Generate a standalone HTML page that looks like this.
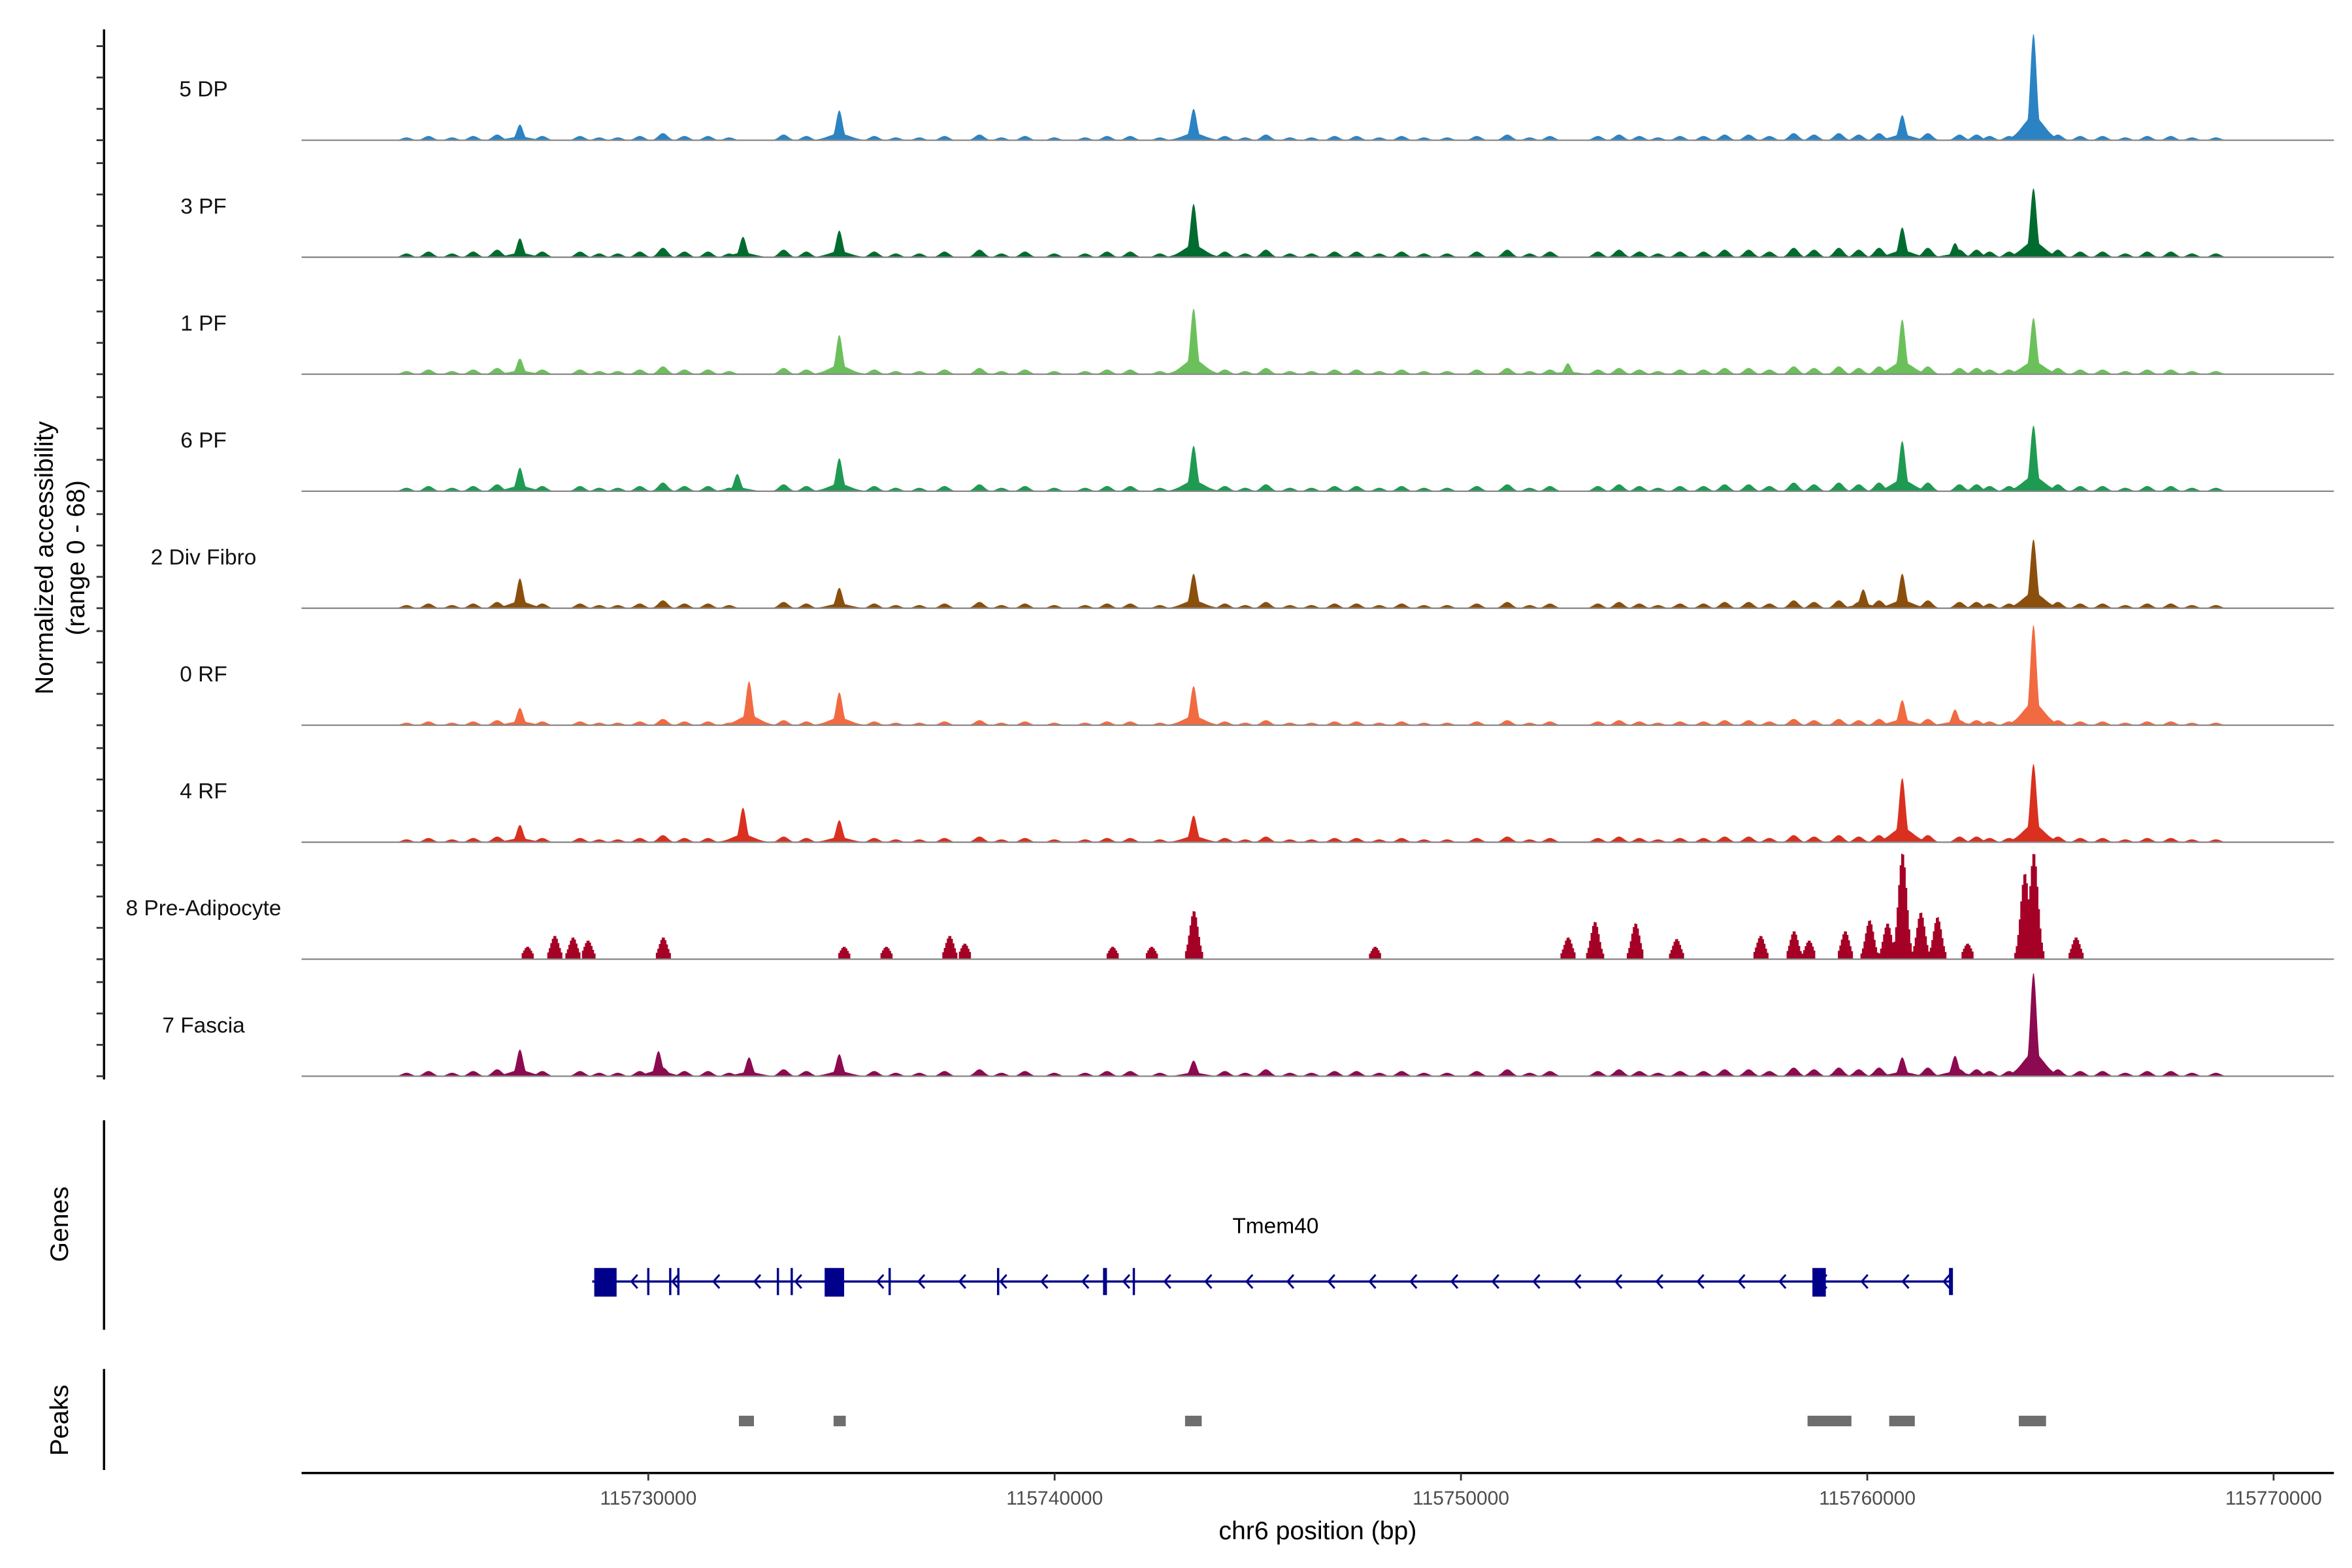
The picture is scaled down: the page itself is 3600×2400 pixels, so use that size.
<!DOCTYPE html>
<html><head><meta charset="utf-8"><style>
html,body{margin:0;padding:0;background:#fff}
svg{display:block;font-family:"Liberation Sans",Arial,sans-serif}
</style></head><body>
<svg id="chart" width="3600" height="2400" viewBox="0 0 1560 1040" xmlns="http://www.w3.org/2000/svg">
<g id="tracks"></g>
<g id="yaxis"></g>
<text transform="translate(35,370) rotate(-90)" text-anchor="middle" font-size="17" fill="#000">Normalized accessibility</text>
<text transform="translate(56,370) rotate(-90)" text-anchor="middle" font-size="17" fill="#000">(range 0 - 68)</text>
<line x1="69" y1="743" x2="69" y2="882" stroke="#000" stroke-width="1.5"/>
<text transform="translate(45,812) rotate(-90)" text-anchor="middle" font-size="17">Genes</text>
<g id="genes"></g>
<line x1="69" y1="908" x2="69" y2="975" stroke="#000" stroke-width="1.5"/>
<text transform="translate(45,942) rotate(-90)" text-anchor="middle" font-size="17">Peaks</text>
<g id="peaks"></g>
<g id="xaxis"></g>
<text x="874" y="1021" text-anchor="middle" font-size="17">chr6 position (bp)</text>
</svg>
<script>
// ---- data (positions in kb) ----
const trackNames = ["5 DP","3 PF","1 PF","6 PF","2 Div Fibro","0 RF","4 RF","8 Pre-Adipocyte","7 Fascia"];
const trackColors = ["#2b83c4","#006b2e","#6cc05c","#1f9a52","#8a4f0c","#f26a41","#d9301f","#a50026","#8c0a50"];
const bgPos = [115724.06,115724.60,115725.18,115725.70,115726.29,115727.40,115728.33,115728.80,115729.26,115729.80,115730.37,115730.90,115731.48,115732.00,115733.34,115733.90,115735.57,115736.10,115736.68,115737.30,115738.16,115738.70,115739.28,115740.00,115740.76,115741.30,115741.87,115742.60,115744.20,115744.70,115745.21,115745.80,115746.33,115746.90,115747.44,115748.00,115748.55,115749.10,115749.67,115750.40,115751.15,115751.70,115752.20,115753.38,115753.90,115754.40,115754.86,115755.40,115755.98,115756.50,115757.09,115757.60,115758.20,115758.70,115759.31,115759.80,115760.30,115761.50,115762.28,115762.70,115763.02,115763.50,115764.70,115765.25,115765.80,115766.36,115766.90,115767.48,115768.00,115768.59];
const bgHeight = [2,3,2,3,4,3,3,2,2,3,5,3,3,2,4,3,3,2,2,3,4,2,3,2,2,3,3,2,3,2,4,2,2,3,3,2,3,2,2,3,4,2,3,3,4,3,2,3,3,4,4,3,5,4,5,4,5,5,4,4,3,3,4,3,3,2,3,3,2,2];
const bgScale = [0.9,1.2,1.0,1.1,1.0,0.8,0.9,0,1.1];
const peakPos = [
 [115726.85,115734.71,115743.43,115760.87,115764.10],
 [115726.85,115732.34,115734.71,115743.43,115760.87,115762.17,115764.10],
 [115726.85,115734.71,115743.43,115752.64,115760.87,115764.10],
 [115726.85,115732.20,115734.71,115743.43,115760.87,115764.10],
 [115726.85,115734.71,115743.43,115759.91,115760.87,115764.10],
 [115726.85,115732.49,115734.71,115743.43,115760.87,115762.17,115764.10],
 [115726.85,115732.34,115734.71,115743.43,115760.87,115764.10],
 [115727.03,115727.70,115728.15,115728.52,115730.37,115734.82,115735.86,115737.42,115737.79,115741.43,115742.39,115743.43,115747.89,115752.64,115753.30,115754.30,115755.31,115757.38,115758.20,115758.57,115759.46,115760.06,115760.50,115760.87,115761.32,115761.73,115762.47,115763.88,115764.10,115765.14],
 [115726.85,115730.26,115732.49,115734.71,115743.43,115760.87,115762.17,115764.10]
];
const peakHeight = [
 [10,19,20,16,68],
 [12,13,17,34,19,9,44],
 [10,25,42,7,35,36],
 [15,11,21,29,32,42],
 [19,13,22,12,22,44],
 [11,28,21,25,16,10,64],
 [11,22,14,17,41,50],
 [8,15,14,12,14,8,8,15,10,8,8,31,8,14,24,23,13,15,18,12,18,25,23,68,30,27,10,55,68,14],
 [17,16,12,14,10,12,13,66]
];
const xTicks = [115730000,115740000,115750000,115760000,115770000];
const peakStart = [115732.23,115734.56,115743.21,115758.53,115760.54,115763.73];
const peakEnd =   [115732.60,115734.86,115743.62,115759.61,115761.17,115764.40];
const exonStart = [115728.67,115734.34,115758.65];
const exonEnd   = [115729.22,115734.82,115758.98];
const intronMarks = [115730.00,115730.54,115730.74,115733.19,115733.53,115735.94,115738.61,115741.24,115741.95,115762.06];
const geneStart = 115728.62, geneEnd = 115762.10;

// ---- scales ----
const X0=200,X1=1548,KB0=115721.466,PXPERKB=26.95;
const xs = kb => X0+(kb-KB0)*PXPERKB;
const xbp = bp => xs(bp/1000);
const bases=[93,170.6,248.2,325.8,403.4,481,558.6,636.2,713.8];
const UNIT=1.04;
const NS="http://www.w3.org/2000/svg";
function mk(tag,attrs,parent){const e=document.createElementNS(NS,tag);for(const k in attrs)e.setAttribute(k,attrs[k]);parent.appendChild(e);return e;}

const tg=document.getElementById('tracks');
const ya=document.getElementById('yaxis');
const axl=mk('line',{x1:69,y1:19.5,x2:69,y2:716,stroke:'#000','stroke-width':1.5},ya);


trackNames.forEach((name,t)=>{
  const b=bases[t];
  const g=mk('g',{},tg);
  
  
  const pre = t===7;
  const sigma = pre?0.15:0.11;
  let d='M'+X0+','+b;
  const step = pre?1:0.5;
  for(let x=X0;x<=X1;x+=step){
    const kb=KB0+(x+step/2-X0)/PXPERKB;
    let v=0;
    if(x>258&&x<1488){
      for(let i=0;i<bgPos.length;i++){const dx=(kb-bgPos[i])/0.16;v=Math.max(v,bgHeight[i]*bgScale[t]*Math.exp(-dx*dx));}
    }
    const P=peakPos[t],H=peakHeight[t];
    for(let i=0;i<P.length;i++){
      const dx=(kb-P[i])/sigma;
      let pv=H[i]*Math.exp(-dx*dx);
      if(!pre){const dw=(kb-P[i])/0.38; pv=Math.max(pv,H[i]*0.22*Math.exp(-dw*dw));}
      v=Math.max(v,pv);
    }
    if(pre){ if(v<3.5) v=0; }
    else if(v<0.4) v=0;
    const y=(b-v*UNIT).toFixed(2);
    if(pre) d+=' L'+x+','+y+' L'+(x+step)+','+y;
    else d+=' L'+x+','+y;
  }
  d+=' L'+X1+','+b+' Z';
  const p=mk('path',{d:d,fill:trackColors[t],stroke:'none'},g);
  
  
  const bl=mk('line',{x1:X0,y1:b,x2:X1,y2:b,stroke:'#888','stroke-width':1},g);
  
  
  const lb=mk('text',{x:135,y:b-29,'text-anchor':'middle','font-size':14.5,fill:'#111'},g);
  lb.textContent=name;
  
  
  [0,20,40,60].forEach(v=>{
    const tk=mk('line',{x1:64,y1:b-v*UNIT,x2:69,y2:b-v*UNIT,stroke:'#333','stroke-width':1.2},ya);
    
    
  });
});

// genes
const gg=document.getElementById('genes');
const GY=850,GC='#00008b';
const gl=mk('line',{x1:xs(geneStart),y1:GY,x2:xs(geneEnd),y2:GY,stroke:GC,'stroke-width':1.5},gg);


for(let x=xs(geneStart)+26;x<xs(geneEnd)-3;x+=27.2){
  const c=mk('polyline',{points:`${x+4},${GY-4.5} ${x},${GY} ${x+4},${GY+4.5}`,fill:'none',stroke:GC,'stroke-width':1.3},gg);
  
  
}
intronMarks.forEach(k=>{
  const thick = (k>115741&&k<115741.5)||k>115762;
  const l=mk('line',{x1:xs(k),y1:GY-9,x2:xs(k),y2:GY+9,stroke:GC,'stroke-width':thick?2.6:1.5},gg);
  
  
});
exonStart.forEach((s,i)=>{
  const r=mk('rect',{x:xs(s),y:GY-9,width:xs(exonEnd[i])-xs(s),height:19,fill:GC},gg);
  
  
});
const gt=mk('text',{x:846,y:818,'text-anchor':'middle','font-size':14.5},gg);
gt.textContent='Tmem40';



// peaks
const pg=document.getElementById('peaks');
peakStart.forEach((s,i)=>{
  const r=mk('rect',{x:xs(s),y:939,width:xs(peakEnd[i])-xs(s),height:7,fill:'#6e6e6e'},pg);
  
  
});

// x axis
const xa=document.getElementById('xaxis');
const xl=mk('line',{x1:X0,y1:977,x2:X1,y2:977,stroke:'#000','stroke-width':1.5},xa);


xTicks.forEach(v=>{
  const x=xbp(v);
  const t=mk('line',{x1:x,y1:977,x2:x,y2:982,stroke:'#333','stroke-width':1.2},xa);
  
  
  const tx=mk('text',{x:x,y:998,'text-anchor':'middle','font-size':13,fill:'#4d4d4d'},xa);
  tx.textContent=String(v);
  
  
});
</script>
</body></html>
